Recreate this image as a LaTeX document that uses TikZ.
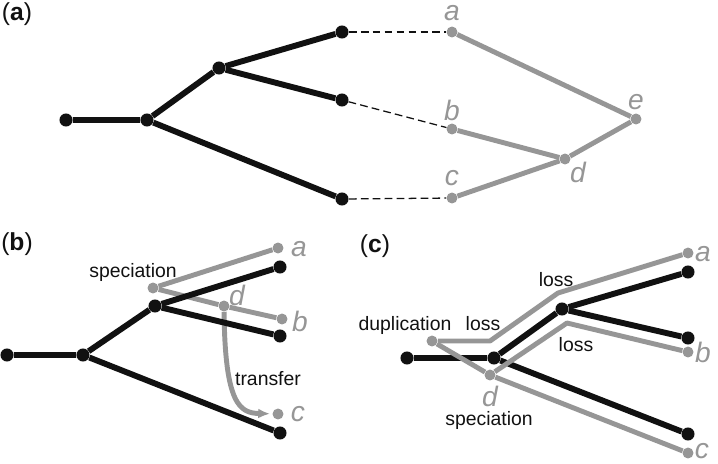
\documentclass[tikz,border=0pt]{standalone}
\usepackage{fontspec}
\setmainfont{Liberation Sans}
\usetikzlibrary{arrows.meta}
\definecolor{genegray}{RGB}{150,150,150}
\definecolor{hostblack}{RGB}{17,17,17}

\begin{document}
\begin{tikzpicture}[x=0.025cm, y=-0.025cm,
  host/.style={hostblack, line width=4.2pt},
  gene/.style={genegray, line width=3.5pt, line join=round},
  hdot/.style={circle, fill=hostblack, inner sep=0pt, minimum size=9.3pt},
  gdot/.style={circle, fill=genegray, inner sep=0pt, minimum size=7.8pt},
  link/.style={hostblack, line width=0.9pt, dash pattern=on 5.5pt off 3pt},
  leaf/.style={genegray, font=\fontsize{20}{20}\selectfont\itshape, inner sep=0pt},
  event/.style={hostblack, font=\fontsize{13.8}{14}\selectfont, inner sep=0pt},
  panel/.style={hostblack, font=\fontsize{17.5}{18}\selectfont, inner sep=0pt}]
\useasboundingbox (0,0) rectangle (718,463);

% (a)
\node[panel] (pa) at (17,14) {(\textbf{a})};
\node[hdot] (aR) at (66,120) {};
\node[hdot] (aN1) at (147,120) {};
\node[hdot] (aN2) at (219,68) {};
\node[hdot] (aL1) at (342,32) {};
\node[hdot] (aL2) at (342,100) {};
\node[hdot] (aL3) at (342,199) {};
\node[gdot] (gA) at (452,32) {};
\node[gdot] (gB) at (452,129) {};
\node[gdot] (gC) at (452,198) {};
\node[gdot] (gD) at (565,159) {};
\node[gdot] (gE) at (636,119) {};
\draw[host] (aR) -- (aN1) -- (aN2) -- (aL1);
\draw[host] (aN2) -- (aL2);
\draw[host] (aN1) -- (aL3);
\draw[link] (aL1) -- (gA);
\draw[link] (aL2) -- (gB);
\draw[link] (aL3) -- (gC);
\draw[gene] (gA) -- (gE) -- (gD) -- (gB);
\draw[gene] (gD) -- (gC);
\node[leaf] (la) at (452,13) {a};
\node[leaf] (lb) at (452,110) {b};
\node[leaf] (lc) at (452,178) {c};
\node[leaf] (ld) at (578,172) {d};
\node[leaf] (le) at (636,102) {e};

% (b)
\node[panel] (pb) at (17,244) {(\textbf{b})};
\node[gdot] (bS) at (153,288) {};
\node[gdot] (bA) at (278,248) {};
\node[gdot] (bB) at (282,319) {};
\node[gdot] (bD) at (224,306) {};
\node[gdot] (bC) at (278,414) {};
\draw[gene] (bS) -- (bA);
\draw[gene] (bS) -- (bD) -- (bB);
\draw[gene, -{Latex[length=8.5pt, width=7pt]}, shorten >=1.5pt] (bD) .. controls (225,405) and (240,413) .. (bC);
\node[hdot] (bR) at (7,355) {};
\node[hdot] (bN1) at (83,355) {};
\node[hdot] (bN2) at (155,306) {};
\node[hdot] (bL1) at (280,267) {};
\node[hdot] (bL2) at (280,336) {};
\node[hdot] (bL3) at (280,433) {};
\draw[host] (bR) -- (bN1) -- (bN2) -- (bL1);
\draw[host] (bN2) -- (bL2);
\draw[host] (bN1) -- (bL3);
\node[event] (bspec) at (133,272) {speciation};
\node[event] (btrans) at (268,379) {transfer};
\node[leaf] (ba) at (299,249) {a};
\node[leaf] (bb) at (300,321) {b};
\node[leaf] (bd) at (237,295) {d};
\node[leaf] (bc) at (298,414) {c};

% (c)
\node[panel] (pc) at (375,246) {(\textbf{c})};
\node[hdot] (cR) at (407,358) {};
\node[hdot] (cN1) at (494,358) {};
\node[hdot] (cN2) at (562,309) {};
\node[hdot] (cL1) at (688,272) {};
\node[hdot] (cL2) at (688,338) {};
\node[hdot] (cL3) at (688,434) {};
\draw[host] (cR) -- (cN1) -- (cN2) -- (cL1);
\draw[host] (cN2) -- (cL2);
\draw[host] (cN1) -- (cL3);
\node[gdot] (cDup) at (432,341) {};
\node[gdot] (cD) at (490,375) {};
\node[gdot] (cA) at (688,253) {};
\node[gdot] (cB) at (688,352) {};
\node[gdot] (cC) at (688,453) {};
\coordinate (cK1) at (490,341);
\coordinate (cK2) at (558,293);
\coordinate (cK3) at (567,323);
\draw[gene] (cDup) -- (cK1) -- (cK2) -- (cA);
\draw[gene] (cDup) -- (cD);
\draw[gene] (cD) -- (cK3) -- (cB);
\draw[gene] (cD) -- (cC);
\node[event] (cdup) at (405,325) {duplication};
\node[event] (closs1) at (483,324) {loss};
\node[event] (closs2) at (556,280) {loss};
\node[event] (closs3) at (576,345) {loss};
\node[event] (cspec) at (489,420) {speciation};
\node[leaf] (cd) at (490,396) {d};
\node[leaf] (ca) at (703,254) {a};
\node[leaf] (cb) at (703,352) {b};
\node[leaf] (cc) at (702,451) {c};
\end{tikzpicture}
\end{document}
